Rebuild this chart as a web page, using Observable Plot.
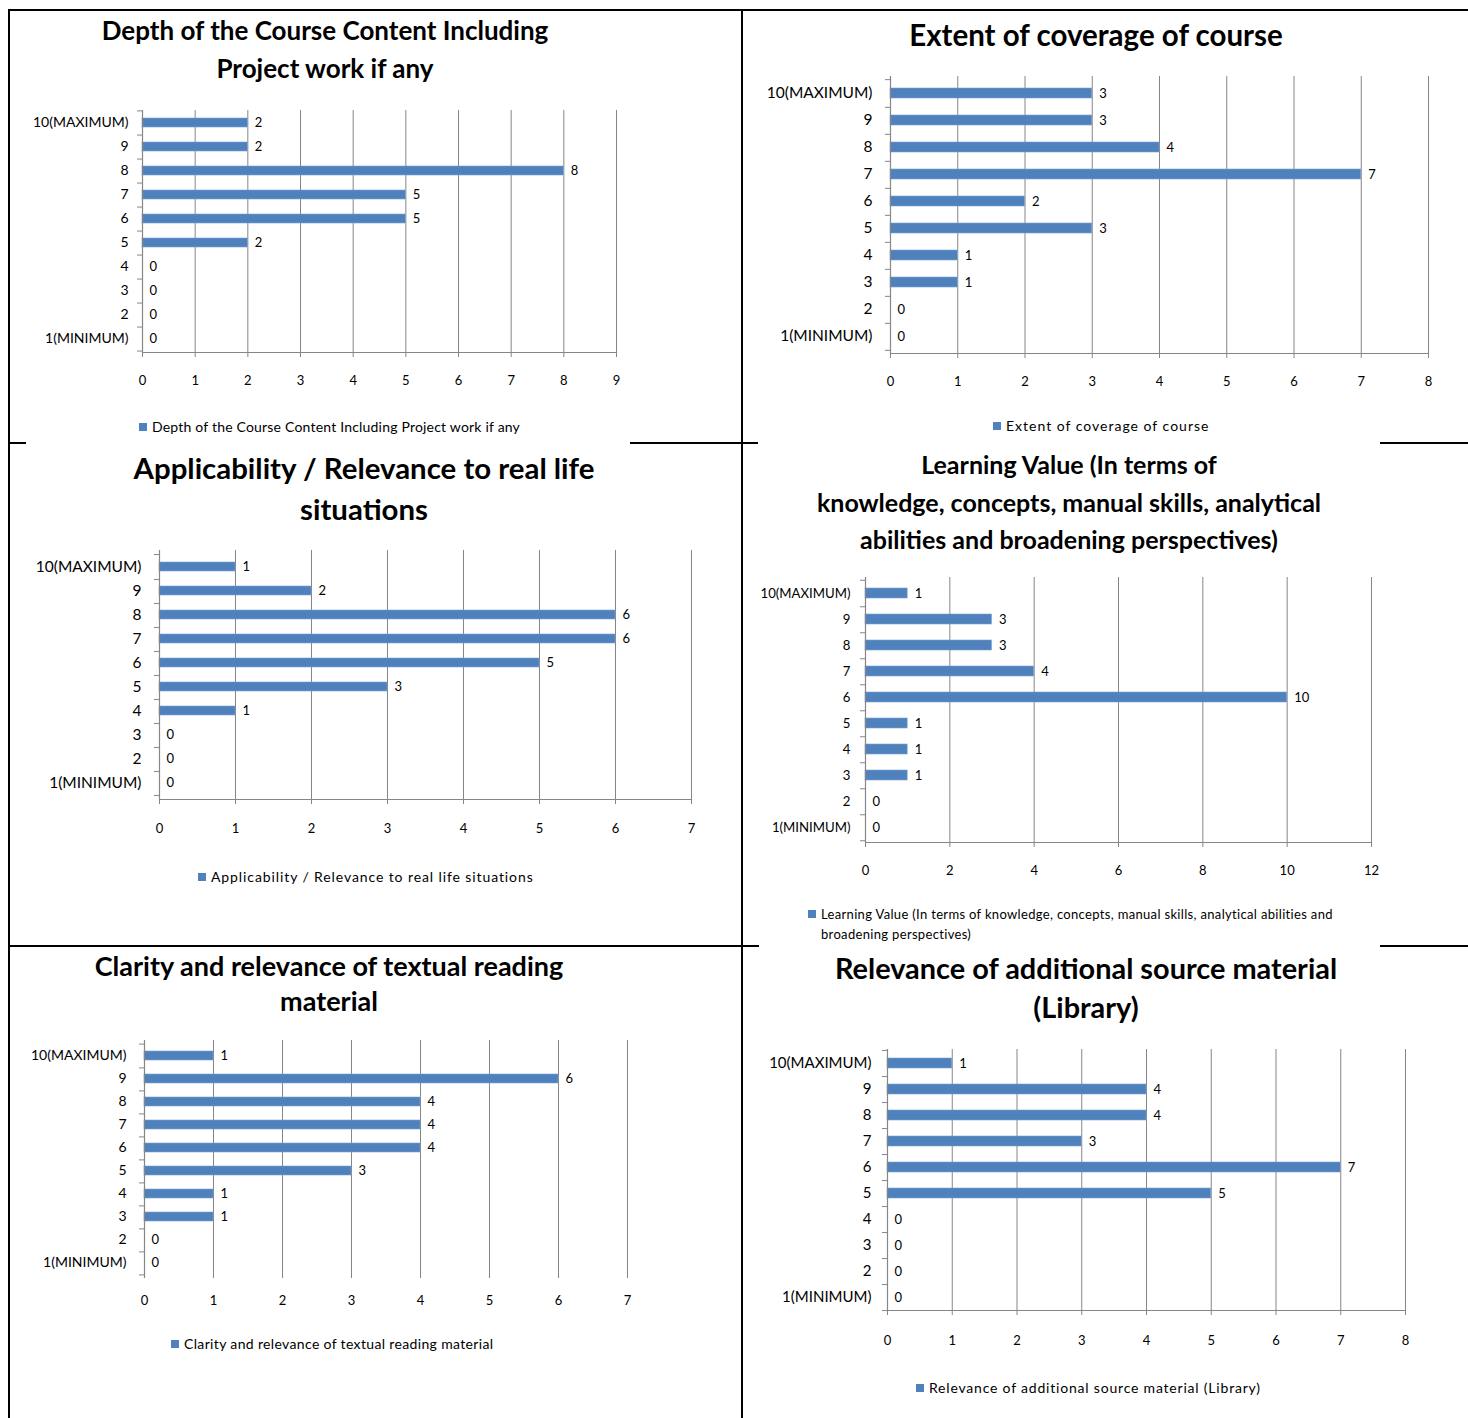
<!DOCTYPE html>
<html>
<head>
<meta charset="utf-8">
<script src="https://cdn.jsdelivr.net/npm/d3@7"></script>
<script src="https://cdn.jsdelivr.net/npm/@observablehq/plot@0.6"></script>
<style>
  body { margin: 0; background: #fff; }
  #page { position: relative; width: 1468px; height: 1418px; overflow: hidden; background: #fff;
          font-family: Lato, "Open Sans", sans-serif; color: #000; }
  .line { position: absolute; background: #000; }
  .title { position: absolute; font-weight: bold; text-align: center; white-space: nowrap;
           transform: translateX(-50%); color: #000; }
  .legend { position: absolute; display: flex; align-items: flex-start; color: #000; }
  .legend .sq { width: 8px; height: 8px; background: #4F81BD; flex: none; margin-right: 5px; }
</style>
</head>
<body>
<div id="page"></div>
<script>
// ---------- data ----------
const categories = ["10(MAXIMUM)", "9", "8", "7", "6", "5", "4", "3", "2", "1(MINIMUM)"];

const depthTitle = ["Depth of the Course Content Including", "Project work if any"];
const depthValues = [2, 2, 8, 5, 5, 2, 0, 0, 0, 0];
const depthTicks = [0, 1, 2, 3, 4, 5, 6, 7, 8, 9];

const extentTitle = ["Extent of coverage of course"];
const extentValues = [3, 3, 4, 7, 2, 3, 1, 1, 0, 0];
const extentTicks = [0, 1, 2, 3, 4, 5, 6, 7, 8];

const applicabilityTitle = ["Applicability / Relevance to real life", "situations"];
const applicabilityValues = [1, 2, 6, 6, 5, 3, 1, 0, 0, 0];
const applicabilityTicks = [0, 1, 2, 3, 4, 5, 6, 7];

const learningTitle = ["Learning Value (In terms of", "knowledge, concepts, manual skills, analytical", "abilities and broadening perspectives)"];
const learningValues = [1, 3, 3, 4, 10, 1, 1, 1, 0, 0];
const learningTicks = [0, 2, 4, 6, 8, 10, 12];

const clarityTitle = ["Clarity and relevance of textual reading", "material"];
const clarityValues = [1, 6, 4, 4, 4, 3, 1, 1, 0, 0];
const clarityTicks = [0, 1, 2, 3, 4, 5, 6, 7];

const libraryTitle = ["Relevance of additional source material", "(Library)"];
const libraryValues = [1, 4, 4, 3, 7, 5, 0, 0, 0, 0];
const libraryTicks = [0, 1, 2, 3, 4, 5, 6, 7, 8];

// ---------- layout / style ----------
const FONT = 'Lato, "Open Sans", sans-serif';
const BLUE = "#4F81BD";
const GRID = "#868686";

const charts = [
  { title: depthTitle, values: depthValues, ticks: depthTicks,
    L: { axisX: 142, top: 110, bottom: 352, xEnd: 616, labelRight: 128, xLabelY: 380, baseline: true, ySize: 14,
         titleX: 325, titleY: 30, titleSize: 26, titleLH: 38, legendX: 139, legendY: 427, legendSize: 14, legendLS: 0.2, legendW: null } },
  { title: extentTitle, values: extentValues, ticks: extentTicks,
    L: { axisX: 890, top: 76, bottom: 353, xEnd: 1428, labelRight: 872, xLabelY: 381, baseline: true, ySize: 15.5,
         titleX: 1096, titleY: 35, titleSize: 29.5, titleLH: 38, legendX: 993, legendY: 426, legendSize: 14, legendLS: 1, legendW: null } },
  { title: applicabilityTitle, values: applicabilityValues, ticks: applicabilityTicks,
    L: { axisX: 159, top: 550, bottom: 799, xEnd: 691, labelRight: 141, xLabelY: 828, baseline: true, ySize: 15.5,
         titleX: 364, titleY: 467, titleSize: 29.4, titleLH: 41, legendX: 198, legendY: 877, legendSize: 14, legendLS: 0.9, legendW: null } },
  { title: learningTitle, values: learningValues, ticks: learningTicks,
    L: { axisX: 865, top: 577, bottom: 842, xEnd: 1371, labelRight: 850, xLabelY: 870, baseline: true, ySize: 13.2,
         titleX: 1069, titleY: 465, titleSize: 25, titleLH: 37.5, legendX: 808, legendY: 914, legendSize: 13, legendLS: 0.33, legendW: 525 } },
  { title: clarityTitle, values: clarityValues, ticks: clarityTicks,
    L: { axisX: 144, top: 1040, bottom: 1278, xEnd: 627, labelRight: 126, xLabelY: 1300, baseline: false, ySize: 14,
         titleX: 329, titleY: 965, titleSize: 27, titleLH: 35, legendX: 171, legendY: 1344, legendSize: 14, legendLS: 0.35, legendW: null } },
  { title: libraryTitle, values: libraryValues, ticks: libraryTicks,
    L: { axisX: 887, top: 1049, bottom: 1310, xEnd: 1405, labelRight: 871, xLabelY: 1340, baseline: true, ySize: 15,
         titleX: 1086, titleY: 967, titleSize: 28.9, titleLH: 39, legendX: 916, legendY: 1388, legendSize: 14, legendLS: 0.8, legendW: null } }
];

const page = document.getElementById("page");

// table border segments
const lines = [
  [8, 9, 1460, 2], [8, 9, 2, 1409], [741, 9, 2, 1409],
  [8, 442, 18, 2], [630, 442, 128, 2], [1380, 442, 88, 2],
  [8, 945, 734, 2], [741, 945, 18, 2], [1380, 945, 88, 2]
];
lines.forEach(([x, y, w, h]) => {
  const d = document.createElement("div");
  d.className = "line";
  Object.assign(d.style, { left: x + "px", top: y + "px", width: w + "px", height: h + "px" });
  page.appendChild(d);
});

charts.forEach(ch => {
  const L = ch.L;
  const plotH = L.bottom - L.top;
  const plotW = L.xEnd - L.axisX;
  const mL = 135, mR = 40, mT = 5, mB = 45;
  const step = plotH / categories.length;
  const data = categories.map((c, i) => ({ category: c, value: ch.values[i] }));
  const xmax = ch.ticks[ch.ticks.length - 1];

  const marks = [
    Plot.gridX(ch.ticks.filter(t => t > 0), { stroke: GRID, strokeOpacity: 1, strokeWidth: 1 }),
    Plot.barX(data.filter(d => d.value > 0), { x: "value", y: "category", fill: BLUE, stroke: "#7ea2cf", strokeWidth: 0.6 }),
    Plot.text(data, { x: "value", y: "category", text: d => String(d.value), textAnchor: "start", dx: 7, fontSize: 13 }),
    Plot.ruleX([0], { stroke: GRID, strokeWidth: 1.2 }),
    Plot.axisX(ch.ticks, { tickSize: 0, tickPadding: L.xLabelY - L.bottom - 5, fontSize: 13, label: null }),
    Plot.axisY({ tickSize: 0, tickPadding: L.axisX - L.labelRight, fontSize: L.ySize, label: null }),
    Plot.axisY({ text: null, tickSize: 5, dy: step / 2, stroke: GRID, label: null }),
    Plot.axisY([categories[0]], { text: null, tickSize: 5, dy: -step / 2, stroke: GRID, label: null })
  ];
  if (L.baseline) {
    marks.push(Plot.frame({ anchor: "bottom", stroke: GRID, strokeWidth: 1.2 }));
    marks.push(Plot.axisX(ch.ticks, { text: null, tickSize: 5, stroke: GRID, label: null }));
  }

  const svg = Plot.plot({
    width: plotW + mL + mR,
    height: plotH + mT + mB,
    marginLeft: mL, marginRight: mR, marginTop: mT, marginBottom: mB,
    style: { fontFamily: FONT, fontSize: "13px", color: "#000", background: "transparent", overflow: "visible" },
    x: { domain: [0, xmax], axis: null, label: null },
    y: { domain: categories, paddingInner: 0.62, paddingOuter: 0.31, axis: null, label: null },
    marks
  });
  svg.style.position = "absolute";
  svg.style.left = (L.axisX - mL) + "px";
  svg.style.top = (L.top - mT) + "px";
  page.appendChild(svg);

  // title
  const t = document.createElement("div");
  t.className = "title";
  t.style.left = L.titleX + "px";
  t.style.top = (L.titleY - L.titleLH / 2) + "px";
  t.style.fontSize = L.titleSize + "px";
  t.style.lineHeight = L.titleLH + "px";
  t.innerHTML = ch.title.map(s => s.replace(/&/g, "&amp;").replace(/</g, "&lt;")).join("<br>");
  page.appendChild(t);

  // legend
  const lg = document.createElement("div");
  lg.className = "legend";
  lg.style.left = L.legendX + "px";
  lg.style.top = (L.legendY - 10) + "px";
  lg.style.fontSize = L.legendSize + "px";
  lg.style.letterSpacing = L.legendLS + "px";
  lg.style.lineHeight = "20px";
  const sq = document.createElement("div");
  sq.className = "sq";
  sq.style.marginTop = "6px";
  const tx = document.createElement("div");
  tx.textContent = ch.title.join(" ");
  if (L.legendW) { tx.style.width = L.legendW + "px"; } else { tx.style.whiteSpace = "nowrap"; }
  lg.appendChild(sq);
  lg.appendChild(tx);
  page.appendChild(lg);
});
</script>
</body>
</html>
